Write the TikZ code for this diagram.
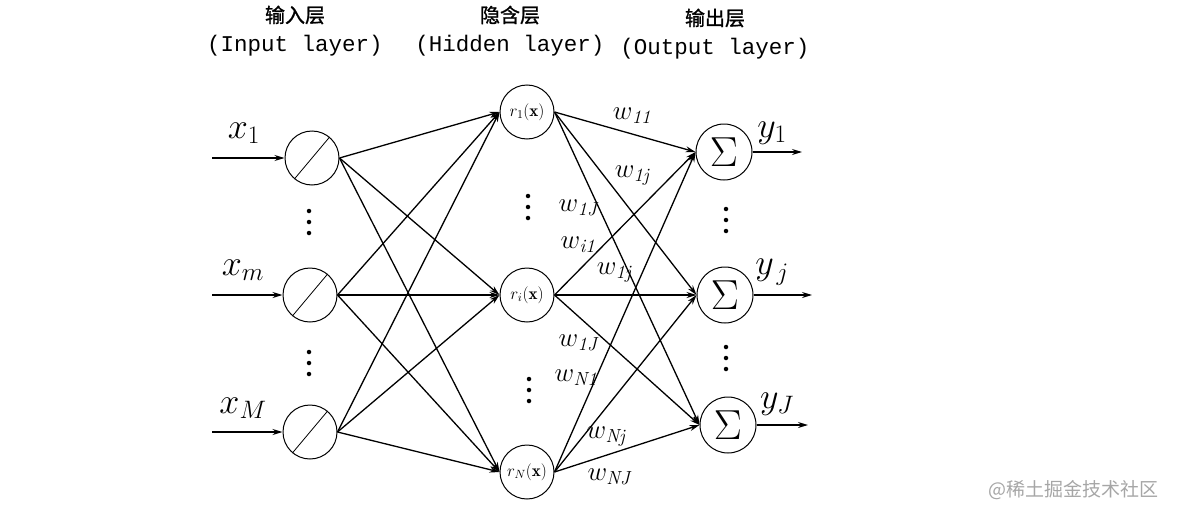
\RequirePackage{fix-cm}
\documentclass[tikz,border=0pt]{standalone}
\usepackage{fontspec}
\newfontfamily\cjk{Noto Sans CJK SC}
\newfontfamily\cjkb[FakeBold=1.2]{Noto Sans CJK SC}
\newfontfamily\monof{Liberation Mono}
\usetikzlibrary{arrows.meta}
\begin{document}
\begin{tikzpicture}[x=1pt,y=-1pt,
  neuron/.style={draw,circle,line width=1pt,minimum size=54pt,inner sep=0pt},
  hid/.style={neuron,font=\fontsize{17}{19}\selectfont},
  outn/.style={neuron,minimum size=56pt,font=\fontsize{42}{44}\selectfont},
  conn/.style={line width=1.3pt,-{Stealth[length=10pt,width=6pt]}},
  bigsym/.style={font=\fontsize{36}{38}\selectfont},
  wlab/.style={font=\fontsize{27}{29}\selectfont},
  vdot/.style={circle,fill,inner sep=0pt,minimum size=4.5pt},
  head/.style={font=\cjkb\fontsize{20}{22}\selectfont},
  sub/.style={font=\monof\fontsize{22.5}{24}\selectfont}]
\useasboundingbox (0,0) rectangle (1182,514);
% headers
\node[head] (hd1) at (295,15) {输入层};
\node[sub] (sb1) at (295,46) {(Input layer)};
\node[head] (hd2) at (510,15) {隐含层};
\node[sub] (sb2) at (510,46) {(Hidden layer)};
\node[head] (hd3) at (715,18) {输出层};
\node[sub] (sb3) at (715,49) {(Output layer)};
% input nodes
\node[neuron] (in1) at (312,158) {};
\node[neuron] (inm) at (310,295) {};
\node[neuron] (inM) at (310,432) {};
\foreach \n in {in1,inm,inM}{
  \draw[line width=0.8pt] (\n.230) -- (\n.50);
}
% hidden nodes
\node[hid] (h1) at (527,112) {$r_1(\mathbf{x})$};
\node[hid] (hi) at (527,295) {$r_i(\mathbf{x})$};
\node[hid] (hN) at (527,472) {$r_N(\mathbf{x})$};
% output nodes
\node[outn] (o1) at (724,152) {$\Sigma$};
\node[outn] (oj) at (725,295) {$\Sigma$};
\node[outn] (oJ) at (728,425) {$\Sigma$};
% input arrows
\coordinate (s1) at (212,158);
\coordinate (sm) at (212,295);
\coordinate (sM) at (212,432);
\draw[conn] (s1) -- (in1.west);
\draw[conn] (sm) -- (inm.west);
\draw[conn] (sM) -- (inM.west);
% output arrows
\coordinate (e1) at (802,152);
\coordinate (ej) at (812,295);
\coordinate (eJ) at (808,425);
\draw[conn] (o1.east) -- (e1);
\draw[conn] (oj.east) -- (ej);
\draw[conn] (oJ.east) -- (eJ);
% input -> hidden
\foreach \a in {in1,inm,inM}{
  \foreach \b in {h1,hi,hN}{
    \draw[conn] (\a.east) -- (\b.west);
  }
}
% hidden -> output
\foreach \a in {h1,hi,hN}{
  \foreach \b in {o1,oj,oJ}{
    \draw[conn] (\a.east) -- (\b.west);
  }
}
% labels
\node[bigsym] (lx1) at (244,133) {$x_1$};
\node[bigsym] (lxm) at (243,270) {$x_m$};
\node[bigsym] (lxM) at (243,408) {$x_M$};
\node[bigsym] (ly1) at (772,133) {$y_1$};
\node[bigsym] (lyj) at (772,272) {$y_{\,j}$};
\node[bigsym] (lyJ) at (777,404) {$y_J$};
% weights
\node[wlab] (w1) at (632,116) {$w_{\mathit{11}}$};
\node[wlab] (w2) at (632,176) {$w_{\mathit{1j}}$};
\node[wlab] (w3) at (578,208) {$w_{\mathit{1J}}$};
\node[wlab] (w4) at (578,245) {$w_{\mathit{i1}}$};
\node[wlab] (w5) at (614,273) {$w_{\mathit{1j}}$};
\node[wlab] (w6) at (578,343) {$w_{\mathit{1J}}$};
\node[wlab] (w7) at (576,378) {$w_{\mathit{N1}}$};
\node[wlab] (w8) at (606,437) {$w_{\mathit{Nj}}$};
\node[wlab] (w9) at (609,477) {$w_{\mathit{NJ}}$};
% dots
\foreach \nm/\px/\py in {da/309/222,db/309/363,dc/528/207,dd/529/390,de/726/220,df/726/358}{
  \node[vdot] (\nm1) at (\px,\py-11) {};
  \node[vdot] (\nm2) at (\px,\py) {};
  \node[vdot] (\nm3) at (\px,\py+11) {};
}
% watermark
\node[font=\cjk\fontsize{19}{21}\selectfont,text=black!35] (wm) at (1073,490) {@稀土掘金技术社区};
\end{tikzpicture}
\end{document}
